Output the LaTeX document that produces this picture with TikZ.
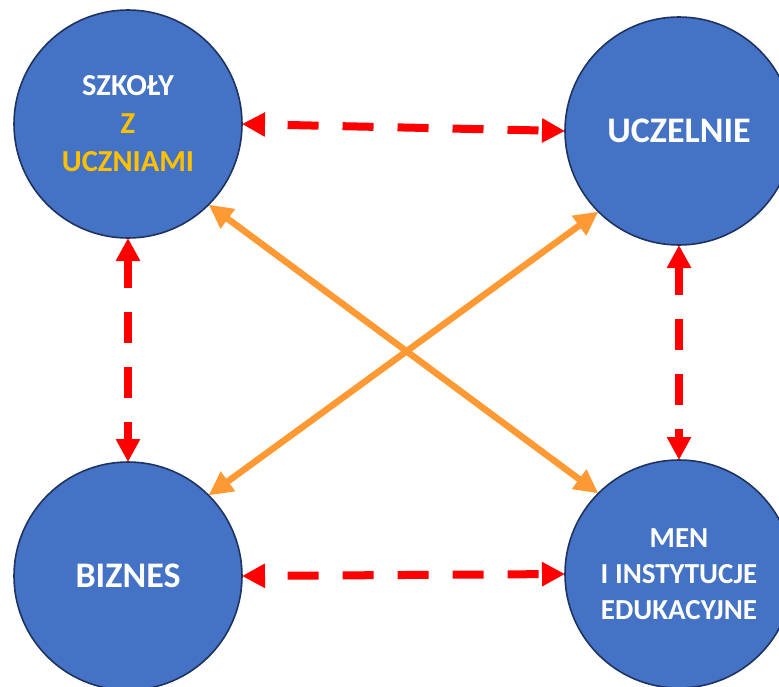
\documentclass[tikz,border=0pt]{standalone}
\usepackage{fontspec}
\setmainfont{Carlito}
\usetikzlibrary{arrows.meta}
\definecolor{cfill}{HTML}{4472C4}
\definecolor{cline}{HTML}{1F3260}
\definecolor{cred}{HTML}{FF0000}
\definecolor{corange}{HTML}{FF9933}
\definecolor{cyellow}{HTML}{FFC000}
\tikzset{
  circ/.style={circle, draw=cline, line width=1.6pt, fill=cfill, minimum size=228pt, inner sep=0pt, outer sep=0pt, text=white, align=center, font=\bfseries},
  redarrow/.style={draw=cred, line width=8pt, {Triangle[length=23pt,width=23pt]}-{Triangle[length=23pt,width=23pt]}, dash pattern=on 31pt off 24pt},
  orangearrow/.style={draw=corange, line width=6.5pt, {Triangle[length=24pt,width=23pt]}-{Triangle[length=24pt,width=23pt]}}
}
\begin{document}
\begin{tikzpicture}[x=1pt,y=-1pt]
\useasboundingbox (0,0) rectangle (779,686);
\begin{scope}
\clip (0,0) rectangle (779,686);
\node[circ, font=\bfseries\fontsize{30.5}{38}\selectfont] (tl) at (128,124) {SZKOŁY\\\textcolor{cyellow}{Z}\\\textcolor{cyellow}{UCZNIAMI}};
\node[circ, font=\bfseries\fontsize{36}{40}\selectfont] (tr) at (679,131) {UCZELNIE};
\node[circ, font=\bfseries\fontsize{36}{40}\selectfont] (bl) at (128,576) {BIZNES};
\node[circ, font=\bfseries\fontsize{29}{36}\selectfont] (br) at (679,574) {MEN\\I INSTYTUCJE\\EDUKACYJNE};
\end{scope}
\draw[redarrow, dash phase=31pt] (tl.east) -- (tr.west);
\draw[redarrow, dash phase=31pt] (bl.east) -- (br.west);
\draw[redarrow, dash phase=3pt] (tl.south) -- (bl.north);
\draw[redarrow, dash phase=3pt] (tr.south) -- (br.north);
\draw[orangearrow] (tl.-45) -- (br.135);
\draw[orangearrow] (bl.45) -- (tr.225);
\end{tikzpicture}
\end{document}
